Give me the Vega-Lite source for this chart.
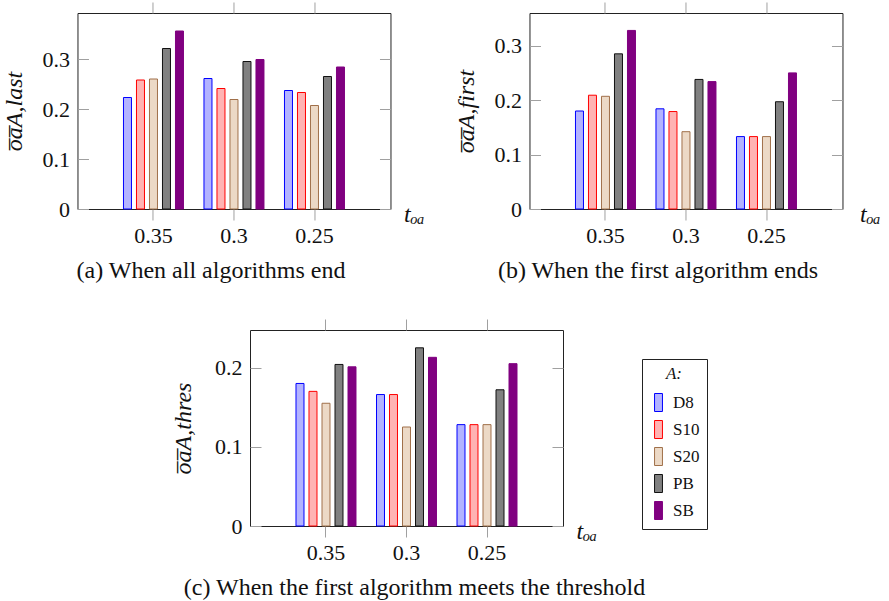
{
  "$schema": "https://vega.github.io/schema/vega-lite/v6.json",
  "padding": {"left": 2, "top": 1, "right": 0, "bottom": 0},
  "background": "white",
  "config": {
    "font": "Liberation Serif",
    "view": {"stroke": "#222", "strokeWidth": 1},
    "axis": {"grid": false, "domain": false, "tickColor": "#a0a0a0", "tickWidth": 1, "labelFontSize": 22, "labelColor": "#111", "titleColor": "#111", "titleFontWeight": "normal", "labelFont": "Liberation Serif", "titleFont": "Liberation Serif"},
    "title": {"orient": "bottom", "anchor": "middle", "fontSize": 24, "fontWeight": "normal", "color": "#111", "offset": 13, "font": "Liberation Serif"},
    "legend": {"strokeColor": "#222", "padding": 7, "labelFontSize": 17, "titleFontSize": 17, "titleFontStyle": "italic", "titleFontWeight": "normal", "symbolType": "M-0.44,-1H0.44V1H-0.44Z", "symbolSize": 324, "symbolStrokeWidth": 1, "rowPadding": 4, "labelOffset": 5, "titleAnchor": "middle", "titlePadding": 10, "labelColor": "#111", "titleColor": "#111"}
  },
  "datasets": {
    "a": [
      {"t": "0.35", "A": "D8", "v": 0.223}, {"t": "0.35", "A": "S10", "v": 0.258}, {"t": "0.35", "A": "S20", "v": 0.26}, {"t": "0.35", "A": "PB", "v": 0.321}, {"t": "0.35", "A": "SB", "v": 0.356},
      {"t": "0.3", "A": "D8", "v": 0.261}, {"t": "0.3", "A": "S10", "v": 0.241}, {"t": "0.3", "A": "S20", "v": 0.219}, {"t": "0.3", "A": "PB", "v": 0.295}, {"t": "0.3", "A": "SB", "v": 0.299},
      {"t": "0.25", "A": "D8", "v": 0.237}, {"t": "0.25", "A": "S10", "v": 0.233}, {"t": "0.25", "A": "S20", "v": 0.207}, {"t": "0.25", "A": "PB", "v": 0.265}, {"t": "0.25", "A": "SB", "v": 0.284}
    ],
    "b": [
      {"t": "0.35", "A": "D8", "v": 0.18}, {"t": "0.35", "A": "S10", "v": 0.209}, {"t": "0.35", "A": "S20", "v": 0.207}, {"t": "0.35", "A": "PB", "v": 0.285}, {"t": "0.35", "A": "SB", "v": 0.328},
      {"t": "0.3", "A": "D8", "v": 0.184}, {"t": "0.3", "A": "S10", "v": 0.179}, {"t": "0.3", "A": "S20", "v": 0.142}, {"t": "0.3", "A": "PB", "v": 0.238}, {"t": "0.3", "A": "SB", "v": 0.234},
      {"t": "0.25", "A": "D8", "v": 0.133}, {"t": "0.25", "A": "S10", "v": 0.133}, {"t": "0.25", "A": "S20", "v": 0.133}, {"t": "0.25", "A": "PB", "v": 0.197}, {"t": "0.25", "A": "SB", "v": 0.25}
    ],
    "c": [
      {"t": "0.35", "A": "D8", "v": 0.18}, {"t": "0.35", "A": "S10", "v": 0.17}, {"t": "0.35", "A": "S20", "v": 0.155}, {"t": "0.35", "A": "PB", "v": 0.204}, {"t": "0.35", "A": "SB", "v": 0.201},
      {"t": "0.3", "A": "D8", "v": 0.166}, {"t": "0.3", "A": "S10", "v": 0.166}, {"t": "0.3", "A": "S20", "v": 0.125}, {"t": "0.3", "A": "PB", "v": 0.225}, {"t": "0.3", "A": "SB", "v": 0.213},
      {"t": "0.25", "A": "D8", "v": 0.128}, {"t": "0.25", "A": "S10", "v": 0.128}, {"t": "0.25", "A": "S20", "v": 0.128}, {"t": "0.25", "A": "PB", "v": 0.172}, {"t": "0.25", "A": "SB", "v": 0.205}
    ]
  },
  "resolve": {"scale": {"fill": "independent", "stroke": "independent"}},
  "center": true,
  "spacing": 34,
  "vconcat": [
    {
      "hconcat": [
        {
          "width": 313, "height": 196,
          "data": {"name": "a"},
          "title": {"text": "(a) When all algorithms end", "dx": -23},
          "resolve": {"axis": {"x": "independent", "y": "independent"}},
          "layer": [
            {
              "mark": {"type": "bar", "strokeWidth": 1},
              "encoding": {
                "x": {"field": "t", "type": "nominal", "sort": ["0.35", "0.3", "0.25"], "scale": {"paddingInner": 0.2547, "paddingOuter": 0.5714}, "axis": {"orient": "bottom", "tickSize": 11, "labelPadding": 5, "labelAngle": 0, "title": "tₒₐ", "titleFontStyle": "italic", "titleFontSize": 24, "titleX": 326, "titleY": 5, "titleAlign": "left", "titleBaseline": "middle", "titleAnchor": null}},
                "xOffset": {"field": "A", "type": "nominal", "sort": ["D8", "S10", "S20", "PB", "SB"], "scale": {"paddingInner": 0.385, "paddingOuter": 0}},
                "y": {"field": "v", "type": "quantitative", "scale": {"domain": [0, 0.392], "nice": false}, "axis": {"orient": "left", "values": [0, 0.1, 0.2, 0.3], "format": "~g", "tickSize": -11, "labelPadding": 19, "title": "o̅a̅A,last", "titleFontStyle": "italic", "titleFontSize": 24, "titlePadding": 15}},
                "fill": {"field": "A", "type": "nominal", "sort": ["D8", "S10", "S20", "PB", "SB"], "scale": {"domain": ["D8", "S10", "S20", "PB", "SB"], "range": ["#b3b3ff", "#ffb3b3", "#ecd9c6", "#808080", "#800080"]}, "legend": null},
                "stroke": {"field": "A", "type": "nominal", "sort": ["D8", "S10", "S20", "PB", "SB"], "scale": {"domain": ["D8", "S10", "S20", "PB", "SB"], "range": ["#0000ff", "#ff0000", "#a0704a", "#111111", "#800080"]}, "legend": null}
              }
            },
            {
              "mark": {"type": "bar", "opacity": 0},
              "encoding": {
                "x": {"field": "t", "type": "nominal", "sort": ["0.35", "0.3", "0.25"], "axis": {"orient": "top", "tickSize": 11, "labels": false, "title": null}},
                "xOffset": {"field": "A", "type": "nominal", "sort": ["D8", "S10", "S20", "PB", "SB"]},
                "y": {"field": "v", "type": "quantitative", "axis": {"orient": "right", "values": [0, 0.1, 0.2, 0.3], "tickSize": -11, "labels": false, "title": null}}
              }
            }
          ]
        },
        {
          "width": 313, "height": 196,
          "data": {"name": "b"},
          "title": {"text": "(b) When the first algorithm ends", "dx": -28},
          "resolve": {"axis": {"x": "independent", "y": "independent"}},
          "layer": [
            {
              "mark": {"type": "bar", "strokeWidth": 1},
              "encoding": {
                "x": {"field": "t", "type": "nominal", "sort": ["0.35", "0.3", "0.25"], "scale": {"paddingInner": 0.2547, "paddingOuter": 0.5714}, "axis": {"orient": "bottom", "tickSize": 11, "labelPadding": 5, "labelAngle": 0, "title": "tₒₐ", "titleFontStyle": "italic", "titleFontSize": 24, "titleX": 330, "titleY": 5, "titleAlign": "left", "titleBaseline": "middle", "titleAnchor": null}},
                "xOffset": {"field": "A", "type": "nominal", "sort": ["D8", "S10", "S20", "PB", "SB"], "scale": {"paddingInner": 0.385, "paddingOuter": 0}},
                "y": {"field": "v", "type": "quantitative", "scale": {"domain": [0, 0.36], "nice": false}, "axis": {"orient": "left", "values": [0, 0.1, 0.2, 0.3], "format": "~g", "tickSize": -11, "labelPadding": 19, "title": "o̅a̅A,first", "titleFontStyle": "italic", "titleFontSize": 24, "titlePadding": 15}},
                "fill": {"field": "A", "type": "nominal", "sort": ["D8", "S10", "S20", "PB", "SB"], "scale": {"domain": ["D8", "S10", "S20", "PB", "SB"], "range": ["#b3b3ff", "#ffb3b3", "#ecd9c6", "#808080", "#800080"]}, "legend": null},
                "stroke": {"field": "A", "type": "nominal", "sort": ["D8", "S10", "S20", "PB", "SB"], "scale": {"domain": ["D8", "S10", "S20", "PB", "SB"], "range": ["#0000ff", "#ff0000", "#a0704a", "#111111", "#800080"]}, "legend": null}
              }
            },
            {
              "mark": {"type": "bar", "opacity": 0},
              "encoding": {
                "x": {"field": "t", "type": "nominal", "sort": ["0.35", "0.3", "0.25"], "axis": {"orient": "top", "tickSize": 11, "labels": false, "title": null}},
                "xOffset": {"field": "A", "type": "nominal", "sort": ["D8", "S10", "S20", "PB", "SB"]},
                "y": {"field": "v", "type": "quantitative", "axis": {"orient": "right", "values": [0, 0.1, 0.2, 0.3], "tickSize": -11, "labels": false, "title": null}}
              }
            }
          ]
        }
      ],
      "spacing": 29
    },
    {
      "width": 313, "height": 196,
      "data": {"name": "c"},
      "title": {"text": "(c) When the first algorithm meets the threshold", "dx": 8},
      "resolve": {"axis": {"x": "independent", "y": "independent"}},
      "layer": [
        {
          "mark": {"type": "bar", "strokeWidth": 1},
          "encoding": {
            "x": {"field": "t", "type": "nominal", "sort": ["0.35", "0.3", "0.25"], "scale": {"paddingInner": 0.2547, "paddingOuter": 0.5714}, "axis": {"orient": "bottom", "tickSize": 11, "labelPadding": 5, "labelAngle": 0, "title": "tₒₐ", "titleFontStyle": "italic", "titleFontSize": 24, "titleX": 326, "titleY": 5, "titleAlign": "left", "titleBaseline": "middle", "titleAnchor": null}},
            "xOffset": {"field": "A", "type": "nominal", "sort": ["D8", "S10", "S20", "PB", "SB"], "scale": {"paddingInner": 0.385, "paddingOuter": 0}},
            "y": {"field": "v", "type": "quantitative", "scale": {"domain": [0, 0.2475], "nice": false}, "axis": {"orient": "left", "values": [0, 0.1, 0.2], "format": "~g", "tickSize": -11, "labelPadding": 19, "title": "o̅a̅A,thres", "titleFontStyle": "italic", "titleFontSize": 24, "titlePadding": 19}},
            "fill": {"field": "A", "type": "nominal", "sort": ["D8", "S10", "S20", "PB", "SB"], "scale": {"domain": ["D8", "S10", "S20", "PB", "SB"], "range": ["#b3b3ff", "#ffb3b3", "#ecd9c6", "#808080", "#800080"]}, "legend": {"title": "A:", "orient": "none", "legendX": 392, "legendY": 29}},
            "stroke": {"field": "A", "type": "nominal", "sort": ["D8", "S10", "S20", "PB", "SB"], "scale": {"domain": ["D8", "S10", "S20", "PB", "SB"], "range": ["#0000ff", "#ff0000", "#a0704a", "#111111", "#800080"]}, "legend": {"title": "A:", "orient": "none", "legendX": 392, "legendY": 29}}
          }
        },
        {
          "mark": {"type": "bar", "opacity": 0},
          "encoding": {
            "x": {"field": "t", "type": "nominal", "sort": ["0.35", "0.3", "0.25"], "axis": {"orient": "top", "tickSize": 11, "labels": false, "title": null}},
            "xOffset": {"field": "A", "type": "nominal", "sort": ["D8", "S10", "S20", "PB", "SB"]},
            "y": {"field": "v", "type": "quantitative", "axis": {"orient": "right", "values": [0, 0.1, 0.2], "tickSize": -11, "labels": false, "title": null}}
          }
        }
      ]
    }
  ]
}
